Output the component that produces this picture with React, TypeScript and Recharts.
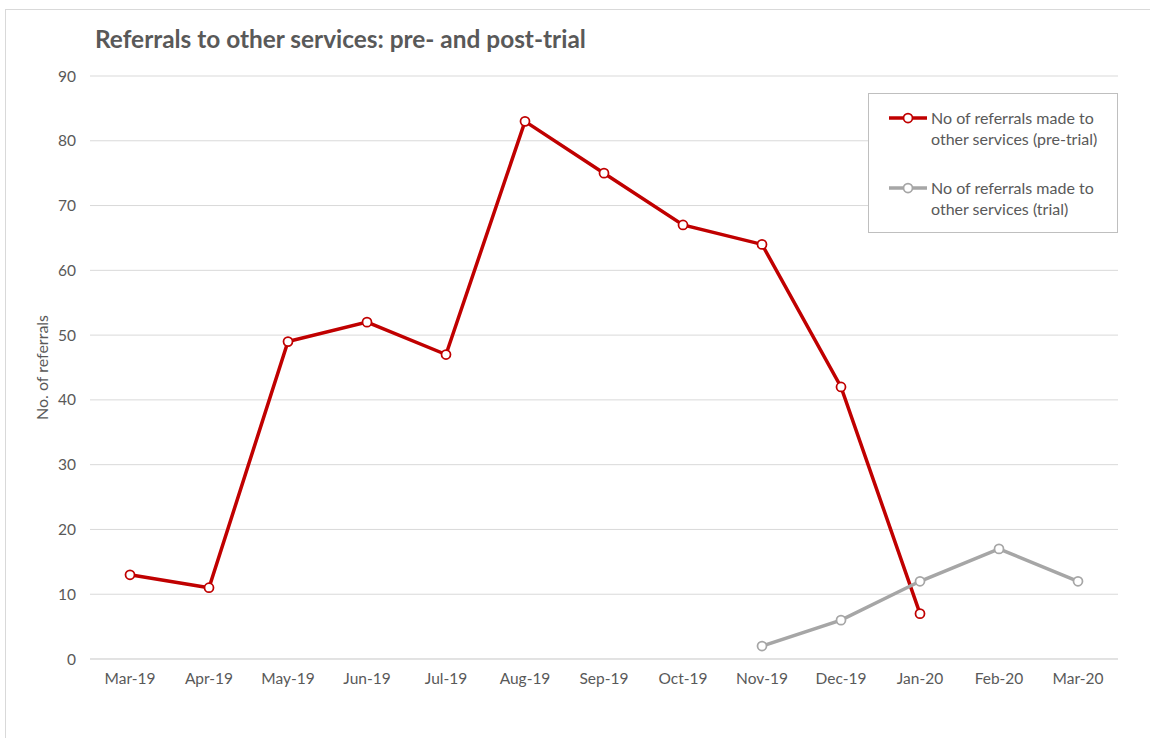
import React from 'react';
import { LineChart, Line, XAxis, YAxis, CartesianGrid, Label } from 'recharts';

const months = ['Mar-19','Apr-19','May-19','Jun-19','Jul-19','Aug-19','Sep-19','Oct-19','Nov-19','Dec-19','Jan-20','Feb-20','Mar-20'];
const preTrial: (number | null)[] = [13, 11, 49, 52, 47, 83, 75, 67, 64, 42, 7, null, null];
const trial: (number | null)[] = [null, null, null, null, null, null, null, null, 2, 6, 12, 17, 12];
const yTicks = [0, 10, 20, 30, 40, 50, 60, 70, 80, 90];

const data = months.map((m, i) => ({ month: m, pre: preTrial[i], trial: trial[i] }));

const FONT = 'Lato, "Open Sans", sans-serif';
const RED = '#c00000';
const GREY = '#a6a6a6';

const legendItems = [
  { color: RED, lines: ['No of referrals made to', 'other services (pre-trial)'] },
  { color: GREY, lines: ['No of referrals made to', 'other services (trial)'] },
];

const LegendBox = () => (
  <div style={{ position: 'absolute', left: 868, top: 93, width: 250, height: 140, border: '1px solid #bfbfbf', boxSizing: 'border-box', fontFamily: FONT, fontSize: 16, color: '#595959', paddingTop: 13, background: '#fff' }}>
    {legendItems.map((it, idx) => (
      <div key={idx} style={{ display: 'flex', alignItems: 'flex-start', marginLeft: 19, marginBottom: idx === 0 ? 28 : 0 }}>
        <svg width={40} height={20} style={{ flex: 'none', marginTop: 1 }}>
          <line x1={1} y1={10} x2={39} y2={10} stroke={it.color} strokeWidth={3.5} />
          <circle cx={20} cy={10} r={4.5} fill="#fff" stroke={it.color} strokeWidth={1.75} />
        </svg>
        <div style={{ lineHeight: '21px', marginLeft: 3 }}>
          {it.lines.map((l, j) => <div key={j}>{l}</div>)}
        </div>
      </div>
    ))}
  </div>
);

export default function App() {
  return (
    <div style={{ position: 'absolute', left: 0, top: 0, width: 1150, height: 738, background: '#fff', overflow: 'hidden' }}>
      <div style={{ position: 'absolute', left: 5, top: 9, width: 1160, height: 740, border: '1px solid #d9d9d9' }} />
      <div style={{ position: 'absolute', left: 95, top: 24, fontFamily: FONT, fontWeight: 700, fontSize: 24.4, color: '#595959', whiteSpace: 'nowrap' }}>
        Referrals to other services: pre- and post-trial
      </div>
      <div style={{ position: 'absolute', left: 0, top: 0 }}>
        <LineChart width={1150} height={738} data={data} margin={{ top: 76, right: 32, left: 30, bottom: 49 }}>
          <CartesianGrid vertical={false} stroke="#d9d9d9" strokeWidth={1} />
          <XAxis dataKey="month" axisLine={{ stroke: '#d9d9d9' }} tickLine={false} height={30} tickMargin={8}
            padding={{ left: 40, right: 40 }}
            tick={{ fill: '#595959', fontSize: 15.5, fontFamily: FONT }} interval={0} />
          <YAxis domain={[0, 90]} ticks={yTicks} width={60} axisLine={false} tickLine={false} tickMargin={8}
            tick={{ fill: '#595959', fontSize: 15.5, fontFamily: FONT }}>
            <Label value="No. of referrals" angle={-90} position="center" dx={-18}
              style={{ fill: '#595959', fontSize: 16, fontFamily: FONT }} />
          </YAxis>
          <Line dataKey="pre" name="No of referrals made to other services (pre-trial)" stroke={RED} strokeWidth={3.5}
            dot={{ r: 4.5, fill: '#fff', stroke: RED, strokeWidth: 1.75 }} isAnimationActive={false} connectNulls={false} />
          <Line dataKey="trial" name="No of referrals made to other services (trial)" stroke={GREY} strokeWidth={3.5}
            dot={{ r: 4.5, fill: '#fff', stroke: GREY, strokeWidth: 1.75 }} isAnimationActive={false} connectNulls={false} />
        </LineChart>
      </div>
      <LegendBox />
    </div>
  );
}
